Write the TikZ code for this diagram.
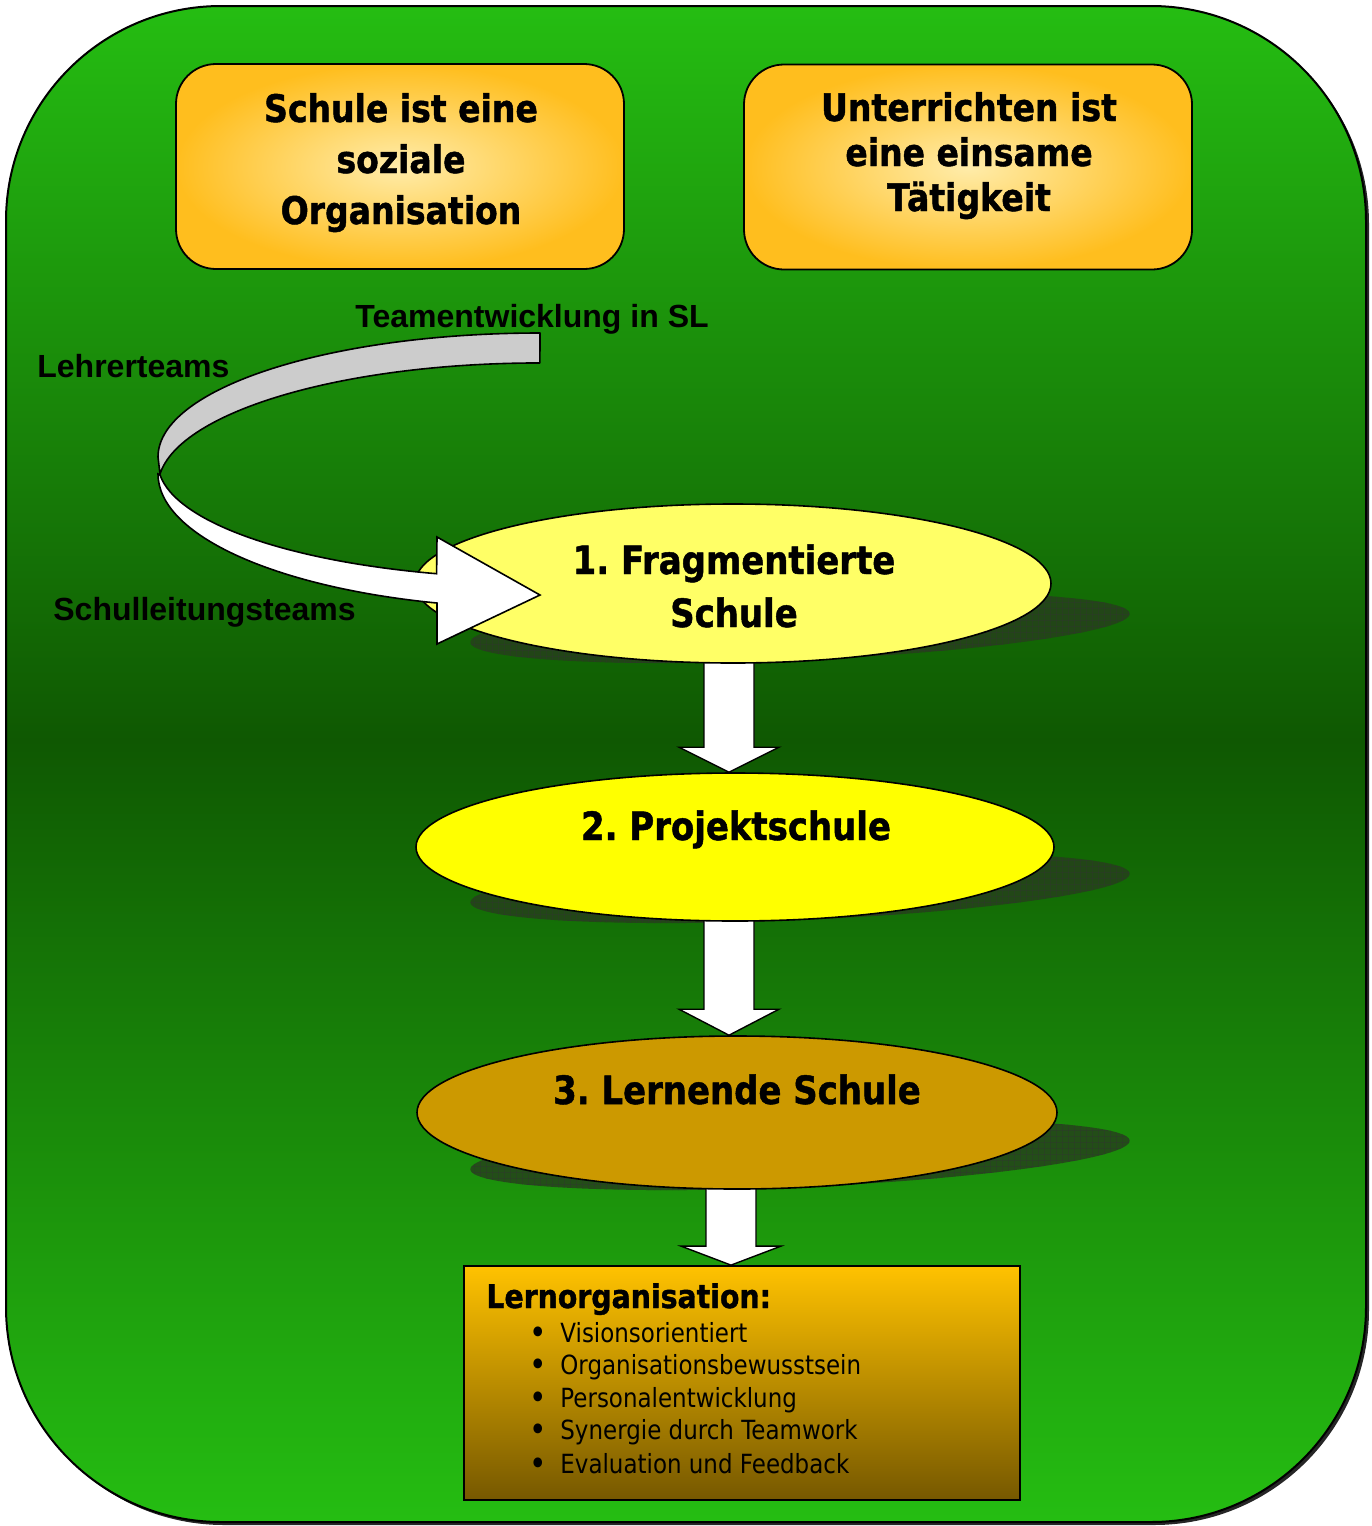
\documentclass[tikz,border=0pt]{standalone}
\usepackage{fontspec}
\usetikzlibrary{shapes.geometric,calc,patterns}
\newfontfamily\vbold[FakeStretch=0.87,FakeBold=1.2]{DejaVu Sans Bold}
\newfontfamily\vreg[FakeStretch=0.87]{DejaVu Sans}
\newfontfamily\arialb{Liberation Sans Bold}
\definecolor{gtop}{RGB}{37,190,18}
\definecolor{gmid}{RGB}{15,88,2}
\definecolor{orin}{RGB}{255,236,170}
\definecolor{orout}{RGB}{255,190,30}
\definecolor{ellA}{RGB}{255,255,102}
\definecolor{ellB}{RGB}{255,255,0}
\definecolor{ellC}{RGB}{204,153,0}
\definecolor{boxtop}{RGB}{255,194,0}
\definecolor{boxbot}{RGB}{118,88,0}
\definecolor{shadowc}{RGB}{38,62,28}
\definecolor{ribbon}{RGB}{204,204,204}
\pgfdeclarelayer{back}
\pgfdeclarelayer{mid}
\pgfsetlayers{back,mid,main}
\frenchspacing
\begin{document}
\begin{tikzpicture}[x=0.5pt,y=-0.5pt,
  obox/.style={draw=black, line width=0.9pt, rounded corners=20pt, inner color=orin, outer color=orout,
    minimum width=224pt, minimum height=102.5pt, inner sep=0pt},
  ell/.style={ellipse, draw=black, line width=0.8pt, inner sep=0pt},
  btxt/.style={font=\fontsize{19}{22}\vbold, anchor=base, inner sep=0pt},
  etxt/.style={font=\fontsize{19.5}{23}\vbold, anchor=base, inner sep=0pt},
  lbl/.style={font=\fontsize{16}{18}\arialb, anchor=base west, inner sep=0pt},
  item/.style={font=\fontsize{13.2}{15}\vreg, anchor=base west, inner sep=0pt},
  bul/.style={font=\fontsize{17}{15}\vreg, anchor=base, inner sep=0pt},
  barrow/.style={draw=black, fill=white, line width=0.7pt, line join=miter},
  ribbonline/.style={draw=black, line width=0.8pt},
  shadowfill/.style={fill=shadowc, opacity=0.8},
  shadowgrid/.style={pattern=grid, pattern color=black!80, opacity=0.35}
]
\useasboundingbox (0,0) rectangle (1371,1526);

% ---------- background ----------
\begin{pgfonlayer}{back}
  \fill[black!85, rounded corners=107.5pt] (9,9) rectangle (1369,1525);
  \begin{scope}
    \clip[rounded corners=107.5pt] (6,6) rectangle (1366,1522);
    \shade[top color=gtop, bottom color=gmid] (0,0) rectangle (1371,741);
    \shade[top color=gmid, bottom color=gtop] (0,740) rectangle (1371,1526);
  \end{scope}
  \draw[line width=1pt, rounded corners=107.5pt] (6,6) rectangle (1366,1522);
  % shadows of the ellipses
  \foreach \cy in {628,888,1155}{
    \fill[shadowfill, rotate around={2.5:(800,\cy)}] (800,\cy) ellipse [x radius=165pt, y radius=16pt];
    \fill[shadowgrid, rotate around={2.5:(800,\cy)}] (800,\cy) ellipse [x radius=165pt, y radius=16pt];
  }
\end{pgfonlayer}

% ---------- top boxes ----------
\node[obox] (boxL) at (400,166.5) {};
\node[obox] (boxR) at (968,167) {};
\node[btxt] (tL1) at (401,122) {Schule ist eine};
\node[btxt] (tL2) at (401,173) {soziale};
\node[btxt] (tL3) at (401,224) {Organisation};
\node[btxt] (tR1) at (969,121) {Unterrichten ist};
\node[btxt] (tR2) at (969,166) {eine einsame};
\node[btxt] (tR3) at (969,211) {Tätigkeit};

% ---------- ellipses ----------
\node[ell, fill=ellA, minimum width=318pt, minimum height=79.5pt] (e1) at (733,583.5) {};
\node[ell, fill=ellB, minimum width=319pt, minimum height=74pt] (e2) at (735,847) {};
\node[ell, fill=ellC, minimum width=320pt, minimum height=76.5pt] (e3) at (737,1112.5) {};
\node[etxt] (e1a) at (734,574) {1. Fragmentierte};
\node[etxt] (e1b) at (734,627) {Schule};
\node[etxt] (e2a) at (736,840) {2. Projektschule};
\node[etxt] (e3a) at (737,1104) {3. Lernende Schule};

% ---------- Lernorganisation box ----------
\node[draw=black, line width=0.9pt, top color=boxtop, bottom color=boxbot,
      minimum width=278pt, minimum height=117pt, inner sep=0pt] (lo) at (742,1383) {};
\node[font=\fontsize{16.3}{18}\vbold, anchor=base west, inner sep=0pt] (loT) at (486,1308) {Lernorganisation:};
\node[bul] (b1) at (538,1344) {•};
\node[item] (i1) at (560,1342) {Visionsorientiert};
\node[bul] (b2) at (538,1376) {•};
\node[item] (i2) at (560,1374) {Organisationsbewusstsein};
\node[bul] (b3) at (538,1409) {•};
\node[item] (i3) at (560,1407) {Personalentwicklung};
\node[bul] (b4) at (538,1441) {•};
\node[item] (i4) at (560,1439) {Synergie durch Teamwork};
\node[bul] (b5) at (538,1475) {•};
\node[item] (i5) at (560,1473) {Evaluation und Feedback};

% ---------- block arrows between stages ----------
\begin{pgfonlayer}{mid}
  \draw[barrow] let \p1=(e1.south), \p2=(e2.north) in
    (\x1-14.5pt,\y1+6pt) -- (\x1-14.5pt,\y2+12.5pt) -- (\x1-27pt,\y2+12.5pt) -- (\x1-2pt,\y2)
    -- (\x1+23pt,\y2+12.5pt) -- (\x1+10.5pt,\y2+12.5pt) -- (\x1+10.5pt,\y1+6pt) -- cycle;
  \draw[barrow] let \p1=(e2.south), \p2=(e3.north) in
    (\x1-15.5pt,\y1+6pt) -- (\x1-15.5pt,\y2+13pt) -- (\x1-28pt,\y2+13pt) -- (\x1-3pt,\y2)
    -- (\x1+22pt,\y2+13pt) -- (\x1+9.5pt,\y2+13pt) -- (\x1+9.5pt,\y1+6pt) -- cycle;
  \draw[barrow] let \p1=(e3.south), \p2=(lo.north) in
    (\x1-15.5pt,\y1+6pt) -- (\x1-15.5pt,\y2+9.5pt) -- (\x1-28pt,\y2+9.5pt) -- (\x1-3pt,\y2)
    -- (\x1+22pt,\y2+9.5pt) -- (\x1+9.5pt,\y2+9.5pt) -- (\x1+9.5pt,\y1+6pt) -- cycle;
\end{pgfonlayer}

% ---------- curved ribbon arrow ----------
\coordinate (rTop) at (540,333);
\draw[ribbonline, fill=ribbon, line join=round] (rTop)
  arc[start angle=90, end angle=180, x radius=191pt, y radius=62pt]
  -- (160,474)
  arc[start angle=174, end angle=90, x radius=191pt, y radius=62pt]
  -- cycle;
\draw[ribbonline, fill=white, line join=miter] (158,474)
  arc[start angle=180, end angle=254.36, x radius=191pt, y radius=67pt]
  -- (437,644) -- (540,595) -- (437,537) -- (436.6,573.7)
  arc[start angle=254.3, end angle=186, x radius=191pt, y radius=57.5pt]
  -- cycle;

% ---------- labels ----------
\node[lbl] (lTeam) at (355,327) {Teamentwicklung in SL};
\node[lbl] (lLehr) at (37,377) {Lehrerteams};
\node[lbl] (lSchul) at (53,620) {Schulleitungsteams};
\end{tikzpicture}
\end{document}
